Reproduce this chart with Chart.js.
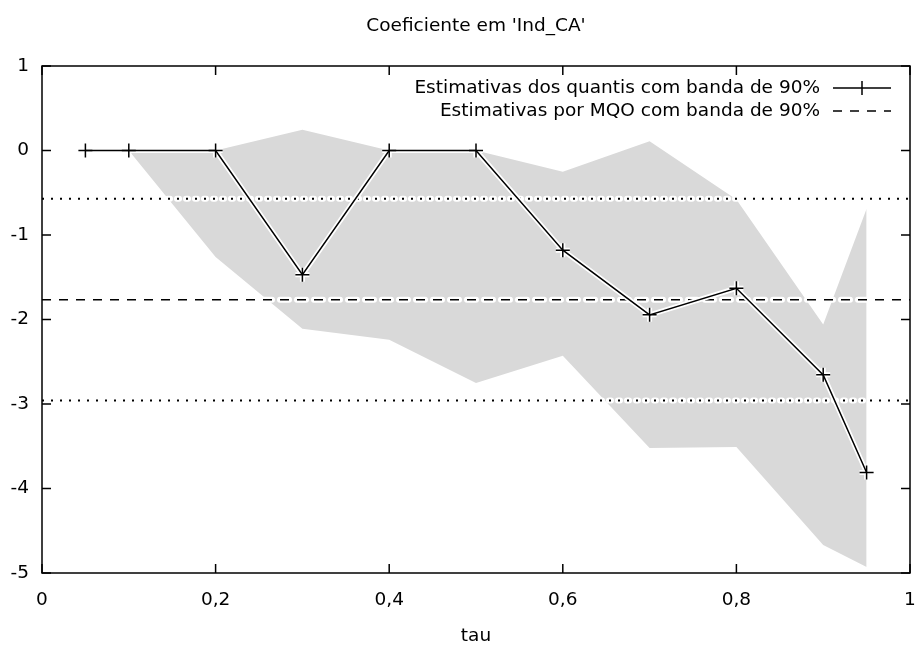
<!DOCTYPE html>
<html>
<head>
<meta charset="utf-8">
<script src="https://cdn.jsdelivr.net/npm/chart.js@4/dist/chart.umd.min.js"></script>
<style>
  html, body { margin: 0; padding: 0; background: #fff; }
  #wrap { width: 922px; height: 647px; }
</style>
</head>
<body>
<div id="wrap"><canvas id="chart"></canvas></div>
<script>
// quantile regression estimates
const tau = [0.05, 0.1, 0.2, 0.3, 0.4, 0.5, 0.6, 0.7, 0.8, 0.9, 0.95];
const quantEst = [0, 0, 0, -1.47, 0, 0, -1.18, -1.945, -1.63, -2.655, -3.81];
// 90% band of the quantile estimates
const bandTau = [0.1, 0.2, 0.3, 0.4, 0.5, 0.6, 0.7, 0.8, 0.9, 0.95];
const bandUpper = [0, 0, 0.245, 0, 0, -0.25, 0.11, -0.58, -2.06, -0.69];
const bandLower = [0, -1.26, -2.11, -2.24, -2.75, -2.43, -3.52, -3.51, -4.67, -4.93];
// OLS estimate and band
const olsEst = -1.765;
const olsLow = -2.96;
const olsHigh = -0.57;
const xRange = [0, 1];

const xTickLabels = ['0', '0,2', '0,4', '0,6', '0,8', '1'];
const yTickLabels = ['-5', '-4', '-3', '-2', '-1', '0', '1'];
const legendLabels = ['Estimativas dos quantis com banda de 90%', 'Estimativas por MQO com banda de 90%'];
const chartTitle = "Coeficiente em 'Ind_CA'";

const FONT = 'DejaVu Sans';
const FSIZE = 18.5;
const BAND = '#d9d9d9';
const DASH = [9, 8];
const DOT = [2, 7];

const pts = (xs, ys) => xs.map((x, i) => ({ x: x, y: ys[i] }));
const hline = v => xRange.map(x => ({ x: x, y: v }));

function lineDs(data, color, width, dash, order, cap) {
  return {
    data: data, borderColor: color, borderWidth: width, borderDash: dash,
    borderCapStyle: cap || 'butt', pointRadius: 0, fill: false, tension: 0, order: order
  };
}

// border box + inward ticks, legend
const frame = {
  id: 'frame',
  afterDatasetsDraw(chart) {
    const { ctx, chartArea: a, scales } = chart;
    ctx.save();
    ctx.strokeStyle = '#000';
    ctx.lineWidth = 1.5;
    ctx.strokeRect(a.left, a.top, a.right - a.left, a.bottom - a.top);
    const tl = 9;
    ctx.beginPath();
    scales.y.ticks.forEach(t => {
      const y = scales.y.getPixelForValue(t.value);
      ctx.moveTo(a.left, y); ctx.lineTo(a.left + tl, y);
      ctx.moveTo(a.right, y); ctx.lineTo(a.right - tl, y);
    });
    scales.x.ticks.forEach(t => {
      const x = scales.x.getPixelForValue(t.value);
      ctx.moveTo(x, a.bottom); ctx.lineTo(x, a.bottom - tl);
      ctx.moveTo(x, a.top); ctx.lineTo(x, a.top + tl);
    });
    ctx.stroke();

    // legend (gnuplot style: text right, sample on the right)
    ctx.font = FSIZE + 'px "' + FONT + '"';
    ctx.fillStyle = '#000';
    ctx.textAlign = 'right';
    ctx.textBaseline = 'middle';
    const tx = 820, sx0 = 833, sx1 = 891;
    const ys = [88, 111];
    ctx.fillText(legendLabels[0], tx, ys[0]);
    ctx.fillText(legendLabels[1], tx, ys[1]);
    ctx.lineWidth = 1.5;
    ctx.beginPath();
    ctx.moveTo(sx0, ys[0]); ctx.lineTo(sx1, ys[0]);
    const cx = (sx0 + sx1) / 2;
    ctx.moveTo(cx, ys[0] - 7); ctx.lineTo(cx, ys[0] + 7);
    ctx.stroke();
    ctx.setLineDash(DASH);
    ctx.beginPath();
    ctx.moveTo(sx0, ys[1]); ctx.lineTo(sx1, ys[1]);
    ctx.stroke();
    ctx.restore();
  }
};

new Chart(document.getElementById('chart').getContext('2d'), {
  type: 'line',
  data: {
    datasets: [
      // quantile line on top, with a white halo beneath
      {
        data: pts(tau, quantEst), borderColor: '#000', borderWidth: 1.5, tension: 0, fill: false,
        pointStyle: 'cross', pointRadius: 7, pointBorderColor: '#000', pointBorderWidth: 1.5, order: 0
      },
      {
        data: pts(tau, quantEst), borderColor: '#fff', borderWidth: 5, tension: 0, fill: false,
        borderJoinStyle: 'round', borderCapStyle: 'round',
        pointStyle: 'cross', pointRadius: 7, pointBorderColor: '#fff', pointBorderWidth: 5, order: 1
      },
      lineDs(hline(olsEst), '#000', 1.5, DASH, 2),
      lineDs(hline(olsHigh), '#000', 2, DOT, 2),
      lineDs(hline(olsLow), '#000', 2, DOT, 2),
      lineDs(hline(olsEst), '#fff', 6, DASH, 3, 'round'),
      lineDs(hline(olsHigh), '#fff', 6, DOT, 3, 'round'),
      lineDs(hline(olsLow), '#fff', 6, DOT, 3, 'round'),
      {
        data: pts(bandTau, bandUpper), borderWidth: 0, borderColor: BAND, backgroundColor: BAND,
        pointRadius: 0, tension: 0, fill: '+1', order: 5
      },
      {
        data: pts(bandTau, bandLower), borderWidth: 0, borderColor: BAND,
        pointRadius: 0, tension: 0, fill: false, order: 6
      }
    ]
  },
  options: {
    responsive: true,
    maintainAspectRatio: false,
    animation: false,
    events: [],
    layout: { padding: { left: 0, right: 7.5, top: 0, bottom: 0 } },
    plugins: {
      legend: { display: false },
      tooltip: { enabled: false },
      title: {
        display: true, text: chartTitle, color: '#000', fullSize: false,
        font: { family: FONT, size: FSIZE, weight: 'normal' },
        padding: { top: 14.9, bottom: 28.9 }
      }
    },
    scales: {
      x: {
        type: 'linear', min: 0, max: 1,
        grid: { display: false, drawTicks: false },
        border: { display: false },
        ticks: {
          stepSize: 0.2, color: '#000', padding: 15.9, maxRotation: 0,
          font: { family: FONT, size: FSIZE },
          callback: (v, i) => xTickLabels[i]
        },
        title: {
          display: true, text: 'tau', color: '#000',
          font: { family: FONT, size: FSIZE }, padding: { top: 0, bottom: 0 }
        },
        afterFit: s => { s.height = 74; s.paddingLeft = 0; s.paddingRight = 0; }
      },
      y: {
        min: -5, max: 1,
        grid: { display: false, drawTicks: false },
        border: { display: false },
        ticks: {
          stepSize: 1, color: '#000', padding: 13,
          font: { family: FONT, size: FSIZE },
          callback: (v, i) => yTickLabels[i]
        },
        afterFit: s => { s.width = 42; s.paddingTop = 0; s.paddingBottom = 0; }
      }
    }
  },
  plugins: [frame]
});
</script>
</body>
</html>
